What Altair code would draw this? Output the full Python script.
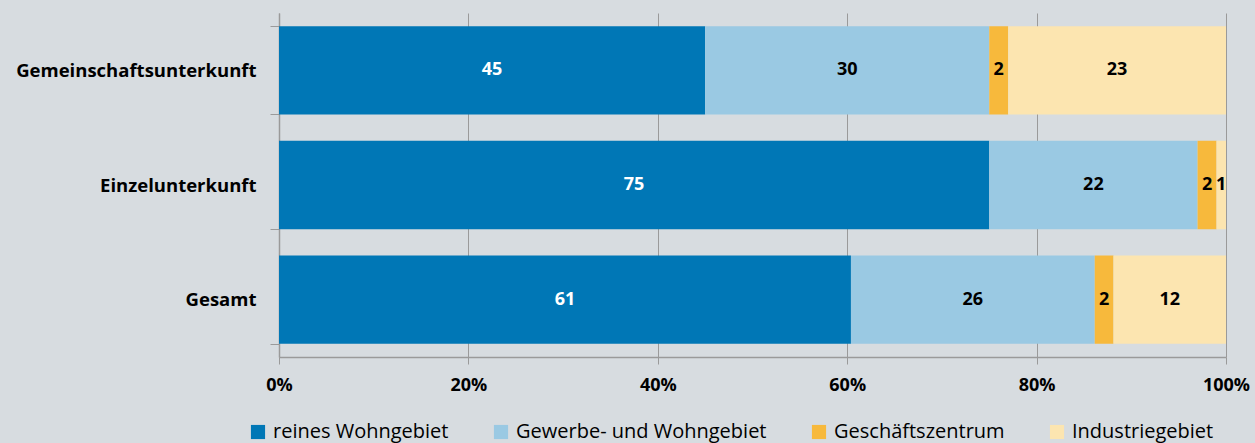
import altair as alt
import pandas as pd

categories = ["Gemeinschaftsunterkunft", "Einzelunterkunft", "Gesamt"]
series = ["reines Wohngebiet", "Gewerbe- und Wohngebiet", "Geschäftszentrum", "Industriegebiet"]
values = {
    "Gemeinschaftsunterkunft": [45, 30, 2, 23],
    "Einzelunterkunft": [75, 22, 2, 1],
    "Gesamt": [61, 26, 2, 12],
}
colors = ["#0077b6", "#9ac9e3", "#f7b93c", "#fce5b0"]
x_ticks = [0, 0.2, 0.4, 0.6, 0.8, 1.0]

rows = []
for c in categories:
    for i, s in enumerate(series):
        rows.append({"cat": c, "series": s, "order": i, "value": values[c][i],
                     "label": str(values[c][i])})
df = pd.DataFrame(rows)

FONT = "Open Sans"
W, H = 947, 344

base = alt.Chart(df).transform_stack(
    stack="value", groupby=["cat"], sort=[alt.SortField("order", order="ascending")],
    as_=["s0", "s1"], offset="normalize"
).transform_calculate(mid="(datum.s0 + datum.s1) / 2")

yscale = alt.Scale(domain=categories, paddingInner=0.23, paddingOuter=0.115)

bars = base.mark_bar().encode(
    x=alt.X("s0:Q", scale=alt.Scale(domain=[0, 1], nice=False, zero=True),
            axis=alt.Axis(values=x_ticks, format=".0%", title=None, grid=True,
                          gridColor="#9a9a9a", gridWidth=1, domainColor="#9a9a9a",
                          tickColor="#9a9a9a", tickSize=7, labelPadding=12,
                          labelFlush=False,
                          labelFont=FONT, labelFontSize=18, labelFontWeight="bold",
                          labelColor="#000000", domainWidth=1.5)),
    x2="s1:Q",
    y=alt.Y("cat:N", scale=yscale, sort=categories,
            axis=alt.Axis(title=None, tickBand="extent", tickSize=9, tickColor="#9a9a9a",
                          domainColor="#9a9a9a", domainWidth=1.5, labelPadding=14,
                          labelLimit=400,
                          labelFont=FONT, labelFontSize=18.5, labelFontWeight="bold",
                          labelColor="#000000")),
    color=alt.Color("series:N", scale=alt.Scale(domain=series, range=colors),
                    sort=series,
                    legend=alt.Legend(title=None, orient="none", direction="horizontal",
                                      legendX=-31, legendY=409, symbolType="square",
                                      symbolSize=200, symbolStrokeWidth=0,
                                      symbolOpacity=1, labelFont=FONT, labelFontSize=20,
                                      labelColor="#000000", columnPadding=42,
                                      labelOffset=5, labelLimit=400)),
    order=alt.Order("order:Q"),
)

text = base.mark_text(font=FONT, fontSize=18, fontWeight="bold").encode(
    x="mid:Q",
    y=alt.Y("cat:N", scale=yscale, sort=categories),
    text="label:N",
    color=alt.condition("datum.order == 0", alt.value("#ffffff"), alt.value("#000000")),
)

chart = alt.layer(bars, text).properties(
    width=W, height=H,
    autosize=alt.AutoSizeParams(type="none"),
    padding={"left": 279, "top": 13, "right": 29, "bottom": 86},
    background="#d7dce0",
).configure_view(stroke=None).resolve_scale(color="independent")

chart.save("out.html", embed_options={"renderer": "svg", "actions": False})
